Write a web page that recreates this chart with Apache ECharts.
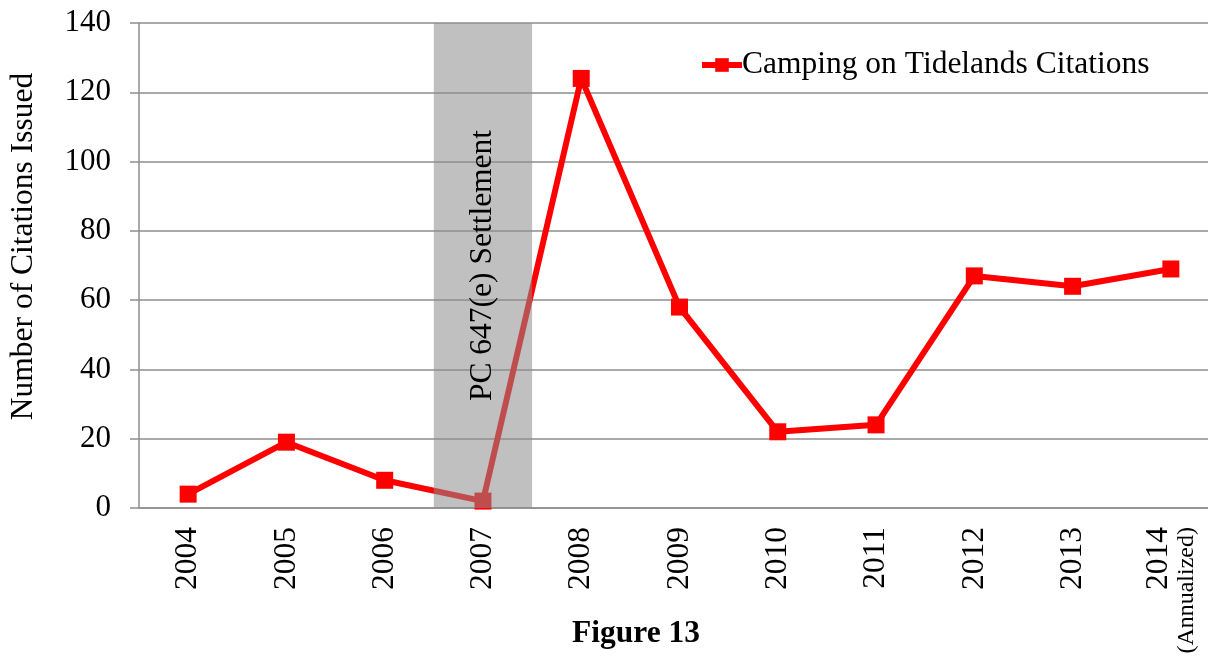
<!DOCTYPE html>
<html>
<head>
<meta charset="utf-8">
<script src="https://cdn.jsdelivr.net/npm/echarts@6/dist/echarts.min.js"></script>
<style>
    html, body { margin: 0; padding: 0; background: #fff; }
    #chart { width: 1208px; height: 656px; }
</style>
</head>
<body>
<div id="chart"></div>
<script>
// 数据
const years = ['2004', '2005', '2006', '2007', '2008', '2009', '2010', '2011', '2012', '2013', '2014'];
const citations = [4, 19, 8, 2, 124, 58, 22, 24, 67, 64, 69];
const seriesName = 'Camping on Tidelands Citations';
const shadedYear = '2007';
const shadedLabel = 'PC 647(e) Settlement';
const yMin = 0, yMax = 140, yStep = 20;
const yAxisName = 'Number of Citations Issued';
const figureTitle = 'Figure 13';

const serif = '"Liberation Serif", "Times New Roman", serif';
const gray = '#8e8e8e';

let chartDom = document.getElementById('chart');
let chart = echarts.init(chartDom);

let option = {
    animation: false,
    title: {
        text: figureTitle,
        left: 572,
        top: 618,
        padding: 0,
        textStyle: { fontFamily: serif, fontSize: 31.5, fontWeight: 'bold', color: '#000' }
    },
    legend: {
        data: [seriesName],
        left: 699,
        top: 49,
        padding: 0,
        itemWidth: 40,
        itemHeight: 17,
        lineStyle: { width: 6 },
        textStyle: { fontFamily: serif, fontSize: 31.5, color: '#000', padding: [0, 0, 0, -5] }
    },
    grid: { left: 139, top: 23, width: 1081, height: 485, outerBoundsMode: 'none' },
    xAxis: {
        type: 'category',
        data: years,
        axisLine: { lineStyle: { color: gray, width: 1.5 } },
        axisTick: { length: 10, lineStyle: { color: gray, width: 1.5 } },
        axisLabel: {
            rotate: 90,
            margin: 19,
            fontFamily: serif,
            fontSize: 31.5,
            color: '#000',
            formatter: (v) => v === '2014' ? '{a|' + v + '}\n{b|(Annualized)}' : v,
            rich: {
                a: { fontFamily: serif, fontSize: 31.5, color: '#000' },
                b: { fontFamily: serif, fontSize: 24, color: '#000' }
            }
        }
    },
    yAxis: {
        type: 'value',
        min: yMin,
        max: yMax,
        interval: yStep,
        name: yAxisName,
        nameLocation: 'middle',
        nameGap: 99,
        nameTextStyle: { fontFamily: serif, fontSize: 31.5, color: '#000', padding: [0, 0, 0, 38] },
        axisLine: { show: true, lineStyle: { color: gray, width: 1.5 } },
        axisTick: { show: true, length: 9, lineStyle: { color: gray, width: 1.5 } },
        axisLabel: { margin: 28, fontFamily: serif, fontSize: 31, color: '#000' },
        splitLine: { lineStyle: { color: gray, width: 1.5 } }
    },
    series: [
        {
            name: seriesName,
            type: 'line',
            data: citations,
            z: 2,
            symbol: 'rect',
            symbolSize: 17,
            lineStyle: { color: '#ff0000', width: 6 },
            itemStyle: { color: '#ff0000' }
        },
        {
            name: shadedLabel,
            type: 'bar',
            data: years.map(y => (y === shadedYear ? yMax : null)),
            barWidth: '100%',
            z: 5,
            itemStyle: { color: 'rgba(140,140,140,0.55)' },
            label: {
                show: true,
                position: 'inside',
                rotate: 90,
                formatter: shadedLabel,
                fontFamily: serif,
                fontSize: 31.5,
                color: '#000'
            }
        }
    ]
};
chart.setOption(option);
window.addEventListener('resize', () => {
    chart.resize();
});
</script>
</body>
</html>
